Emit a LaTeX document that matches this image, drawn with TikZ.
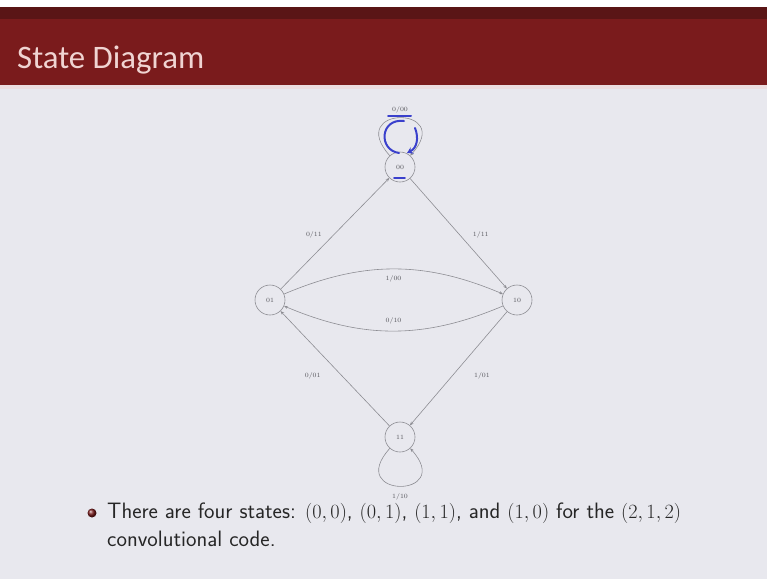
\documentclass[tikz,border=0pt]{standalone}
\usepackage{fontspec}
\usepackage{tikz}
\usetikzlibrary{arrows.meta,calc,positioning}
\usepackage{xcolor}
\newfontfamily\titlefont{Carlito}
\definecolor{slidebg}{HTML}{E8E8EE}
\definecolor{barred}{HTML}{7A1B1C}
\definecolor{bardark}{HTML}{5A1516}
\definecolor{titlepink}{HTML}{F0D4D2}
\definecolor{edgegray}{HTML}{8C8C92}
\definecolor{labelgray}{HTML}{55555B}
\definecolor{pen}{HTML}{3A40CC}
\tikzset{
  state/.style={circle,draw=edgegray,line width=.5pt,minimum size=.9cm,inner sep=0pt,
    font=\fontsize{5.5}{6}\selectfont,text=labelgray},
  trans/.style={draw=edgegray,line width=.5pt,-{Stealth[length=3.2pt,width=2.6pt]}},
  trans label/.style={font=\fontsize{5.5}{6}\selectfont,text=labelgray,inner sep=1pt},
  pen stroke/.style={draw=pen,line width=1.7pt}
}

\begin{document}
\begin{tikzpicture}[x=0.03cm,y=-0.03cm,line cap=round,line join=round]
  % slide background and title bar
  \fill[slidebg] (0,0) rectangle (767,579);
  \useasboundingbox (0,0) rectangle (767,579);
  \fill[white] (0,0) rectangle (767,7);
  \fill[barred] (0,7) rectangle (767,85);
  \fill[bardark] (0,7) rectangle (767,19);
  \fill[titlepink!55!slidebg] (0,85) rectangle (767,89);
  \node[anchor=base west,inner sep=0pt,text=titlepink,font=\titlefont\fontsize{28}{32}\selectfont]
    (title) at (17,68) {State Diagram};

  % states
  \node[state] (s00) at (400,167) {00};
  \node[state] (s01) at (270,300) {01};
  \node[state] (s10) at (517,300) {10};
  \node[state] (s11) at (400,437) {11};

  % transitions
  \draw[trans] (s00) to[out=132,in=48,looseness=8.5]
        node[trans label,above=3pt] (l0000) {0/00} (s00);
  \draw[trans] (s01) -- node[trans label,xshift=-18pt,yshift=-1pt] (l0111) {0/11} (s00);
  \draw[trans] (s00) -- node[trans label,xshift=19pt,yshift=-1pt] (l1011) {1/11} (s10);
  \draw[trans] (s01) to[bend left=23] node[trans label,below=4pt] (l1100) {1/00} (s10);
  \draw[trans] (s10) to[bend left=23] node[trans label,above=5pt] (l0010) {0/10} (s01);
  \draw[trans] (s10) -- node[trans label,xshift=20pt,yshift=-6pt] (l1101) {1/01} (s11);
  \draw[trans] (s11) -- node[trans label,xshift=-19pt,yshift=-6pt] (l0101) {0/01} (s01);
  \draw[trans] (s11) to[out=-132,in=-48,looseness=8.5]
        node[trans label,below=5pt] (l1110) {1/10} (s11);

  % hand-written pen marks
  \draw[pen stroke] (404,121) .. controls (380,118) and (378,150) .. (399,153);
  \draw[pen stroke,-{Stealth[length=5pt,width=6pt]}] (415,128) .. controls (419,138) and (417,148) .. (407,153);
  \draw[pen stroke] (388,116) -- (411,116);
  \draw[pen stroke,line width=1.3pt] (394,178) -- (405,178);

  % bullet text
  \shade[ball color=barred] (92,513) circle (4.5);
  \node[anchor=north west,inner sep=0pt,font=\sffamily\fontsize{19}{24}\selectfont,
    text=black!85,align=left] (bullet) at (107,503)
    {There are four states: $(0,0)$, $(0,1)$, $(1,1)$, and $(1,0)$ for the $(2,1,2)$\\
     convolutional code.};
\end{tikzpicture}
\end{document}
